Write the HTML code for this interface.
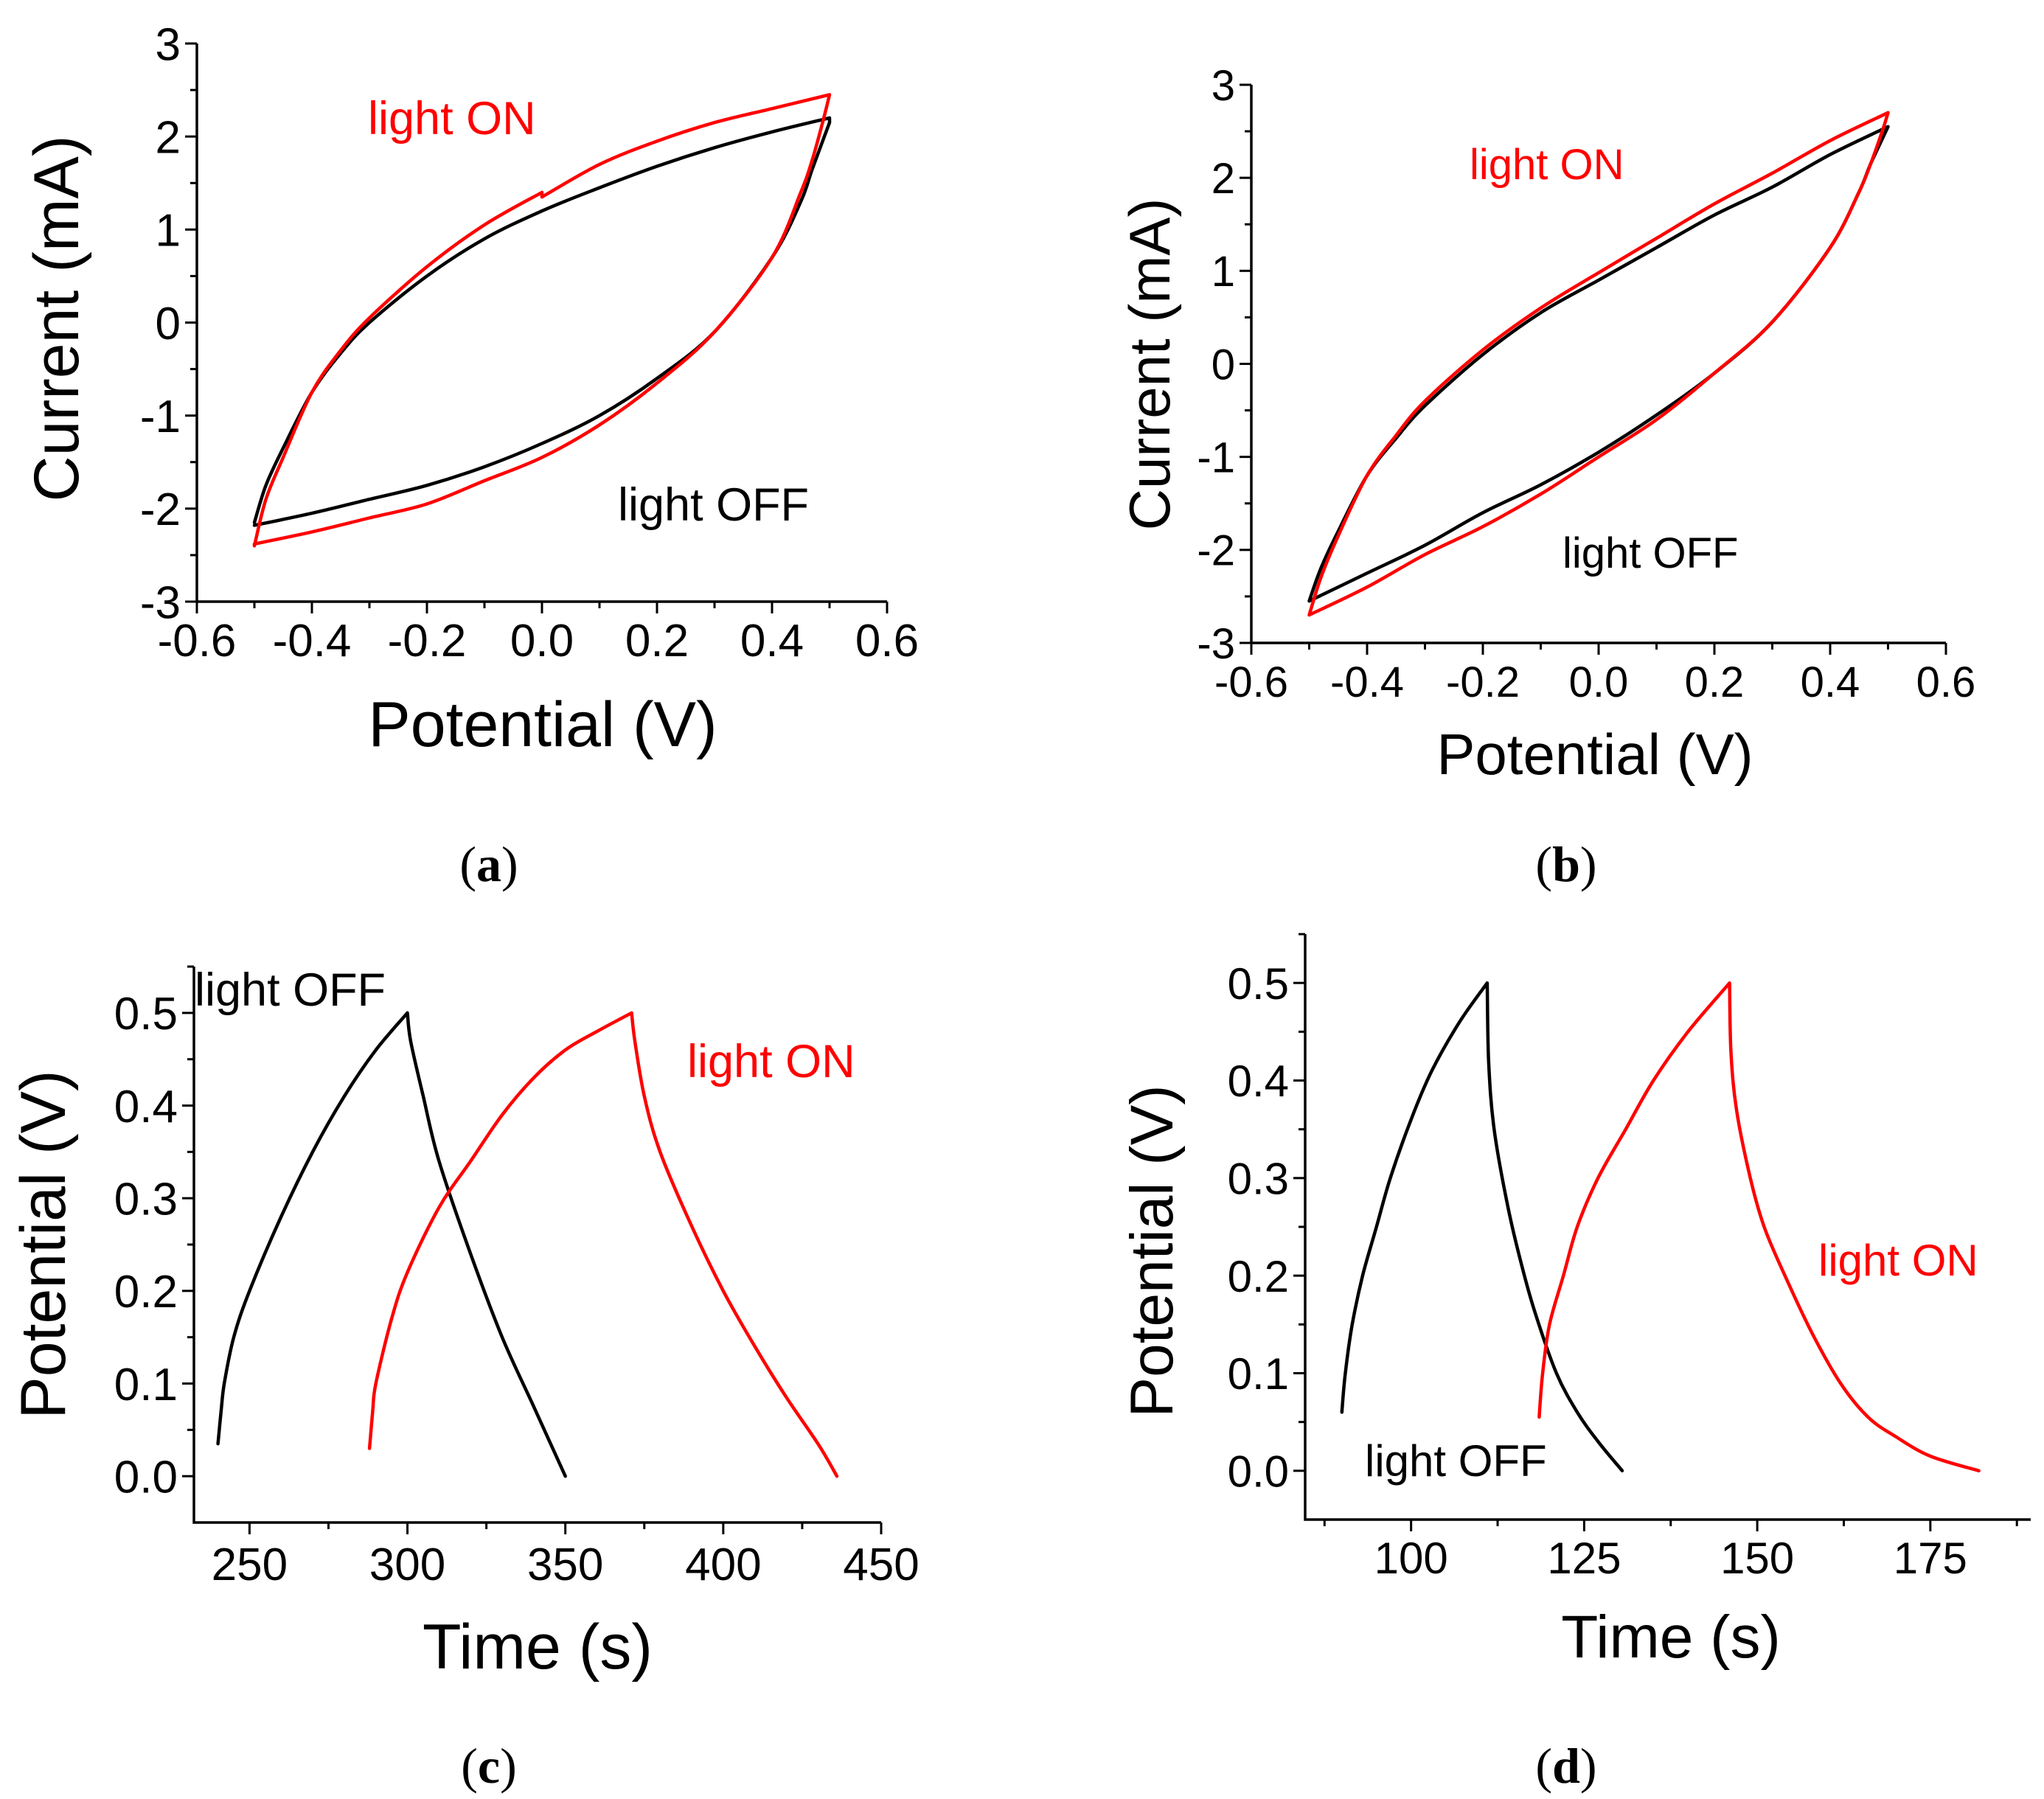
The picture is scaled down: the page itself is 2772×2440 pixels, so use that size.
<!DOCTYPE html>
<html><head><meta charset="utf-8">
<style>
html,body{margin:0;padding:0;background:#fff;}
svg{display:block;}
text{font-family:"Liberation Sans",Arial,sans-serif;}
.cap{font-family:"Liberation Serif",serif;}
</style></head>
<body>
<svg id="fig" width="2772" height="2440" viewBox="0 0 2772 2440" xmlns="http://www.w3.org/2000/svg"></svg>
<script>
// ---- Panel (a) data: CV ----
const aOffV = [-0.5,-0.48,-0.45,-0.4,-0.35,-0.3,-0.2,-0.1,0.0,0.1,0.2,0.3,0.4,0.5, 0.5,0.47,0.45,0.4,0.3,0.2,0.1,0.0,-0.1,-0.2,-0.3,-0.4,-0.5];
const aOffI = [-2.15,-1.75,-1.35,-0.75,-0.33,0.0,0.5,0.9,1.2,1.45,1.68,1.88,2.05,2.2, 2.15,1.65,1.3,0.7,-0.1,-0.6,-1.0,-1.3,-1.55,-1.75,-1.9,-2.05,-2.18];
const aOnV = [-0.5,-0.48,-0.45,-0.4,-0.35,-0.3,-0.2,-0.1,0.0,0.0,0.1,0.2,0.3,0.4,0.5, 0.49,0.47,0.45,0.4,0.3,0.2,0.1,0.0,-0.1,-0.2,-0.3,-0.4,-0.5,-0.5];
const aOnI = [-2.4,-1.9,-1.45,-0.75,-0.3,0.05,0.6,1.05,1.4,1.35,1.7,1.95,2.15,2.3,2.45, 2.2,1.75,1.4,0.7,-0.1,-0.65,-1.1,-1.45,-1.7,-1.95,-2.1,-2.25,-2.38,-2.4];
// ---- Panel (b) data: CV ----
const bOffV = [-0.5,-0.48,-0.45,-0.4,-0.35,-0.3,-0.2,-0.1,0.0,0.1,0.2,0.3,0.4,0.5, 0.47,0.45,0.4,0.3,0.2,0.1,0.0,-0.1,-0.2,-0.3,-0.4,-0.5];
const bOffI = [-2.55,-2.2,-1.8,-1.2,-0.8,-0.45,0.1,0.55,0.9,1.25,1.6,1.9,2.25,2.55, 2.15,1.85,1.25,0.45,-0.1,-0.55,-0.95,-1.3,-1.6,-1.95,-2.25,-2.55];
const bOnV = [-0.5,-0.48,-0.45,-0.4,-0.35,-0.3,-0.2,-0.1,0.0,0.1,0.2,0.3,0.4,0.5, 0.49,0.47,0.45,0.4,0.3,0.2,0.1,0.0,-0.1,-0.2,-0.3,-0.4,-0.5,-0.5];
const bOnI = [-2.7,-2.3,-1.85,-1.2,-0.77,-0.4,0.15,0.6,0.98,1.35,1.72,2.05,2.4,2.7, 2.5,2.15,1.85,1.25,0.45,-0.1,-0.6,-1.0,-1.4,-1.75,-2.05,-2.4,-2.7,-2.7];
// ---- Panel (c) data: GCD ----
const cOffT = [240,241,242,245,250,260,270,280,290,300,301,305,310,320,330,340,350];
const cOffV = [0.035,0.07,0.1,0.15,0.2,0.28,0.35,0.41,0.46,0.5,0.47,0.41,0.34,0.24,0.15,0.075,0.0];
const cOnT = [288,289,290,295,300,310,320,330,340,350,360,371,372,375,380,390,400,410,420,430,436];
const cOnV = [0.03,0.07,0.1,0.17,0.22,0.29,0.34,0.39,0.43,0.46,0.48,0.5,0.47,0.41,0.35,0.27,0.2,0.14,0.085,0.035,0.0];
// ---- Panel (d) data: GCD ----
const dOffT = [90,90.5,91.5,93,95,97,100,103,107,111,111.2,112,114,116,118,121,124,127,130.5];
const dOffV = [0.06,0.1,0.15,0.2,0.25,0.3,0.36,0.41,0.46,0.5,0.42,0.35,0.27,0.21,0.16,0.1,0.06,0.03,0.0];
const dOnT = [118.5,119,120,122,124,127,131,135,140,146,146.2,147,149,151,154,158,162,166,170,175,182];
const dOnV = [0.055,0.1,0.15,0.2,0.25,0.3,0.35,0.4,0.45,0.5,0.43,0.37,0.3,0.25,0.2,0.14,0.09,0.055,0.035,0.015,0.0];
// tick labels
const cvXTicks = ["-0.6","-0.4","-0.2","0.0","0.2","0.4","0.6"];
const cvYTicks = ["-3","-2","-1","0","1","2","3"];
const cXTicks = ["250","300","350","400","450"];
const dXTicks = ["100","125","150","175"];
const gcdYTicks = ["0.0","0.1","0.2","0.3","0.4","0.5"];

const NS="http://www.w3.org/2000/svg";
const svg=document.getElementById('fig');
function mk(tag,attrs,parent){const e=document.createElementNS(NS,tag);for(const k in attrs)e.setAttribute(k,attrs[k]);(parent||svg).appendChild(e);return e;}

function smoothPath(P){
  // split into runs at direction changes, Catmull-Rom within runs
  const runs=[];let cur=[P[0]];
  for(let i=1;i<P.length;i++){
    cur.push(P[i]);
    if(i<P.length-1){
      const dx1=P[i][0]-P[i-1][0],dx2=P[i+1][0]-P[i][0];
      const dy1=P[i][1]-P[i-1][1],dy2=P[i+1][1]-P[i][1];
      if(dx1*dx2<=0||dy1*dy2<=0){runs.push(cur);cur=[P[i]];}
    }
  }
  runs.push(cur);
  let d='M'+P[0][0].toFixed(1)+','+P[0][1].toFixed(1);
  runs.forEach(r=>{
    for(let i=0;i<r.length-1;i++){
      const p0=r[i-1]||r[i],p1=r[i],p2=r[i+1],p3=r[i+2]||r[i+1];
      const c1=[p1[0]+(p2[0]-p0[0])/6,p1[1]+(p2[1]-p0[1])/6];
      const c2=[p2[0]-(p3[0]-p1[0])/6,p2[1]-(p3[1]-p1[1])/6];
      d+=` C${c1[0].toFixed(1)},${c1[1].toFixed(1)} ${c2[0].toFixed(1)},${c2[1].toFixed(1)} ${p2[0].toFixed(1)},${p2[1].toFixed(1)}`;
    }
  });
  return d;
}

function panel(o){
  const g=mk('g',{});
  
  
  const sx=v=>o.L+(v-o.x0)/(o.x1-o.x0)*(o.R-o.L);
  const sy=v=>o.B-(v-o.y0)/(o.y1-o.y0)*(o.B-o.T);
  const ax=mk('path',{d:`M${o.L},${o.T} L${o.L},${o.B} L${o.R},${o.B}`,fill:'none',stroke:'#000','stroke-width':3.5},g);
  
  
  for(let v=o.xmin0;v<=o.x1+1e-9;v+=o.xmin){
    const major=Math.abs(((v-o.xmaj0)/o.xmaj)-Math.round((v-o.xmaj0)/o.xmaj))<1e-6;
    mk('line',{x1:sx(v),x2:sx(v),y1:o.B,y2:o.B+(major?16:9),stroke:'#000','stroke-width':3},g);
  }
  o.xt.forEach((s,i)=>{const v=o.xmaj0+i*o.xmaj;
    const t=mk('text',{x:sx(v),y:o.xly,'font-size':o.tf,'text-anchor':'middle'},g);t.textContent=s;
    
    });
  for(let v=o.ymin0;v<=o.y1+1e-9;v+=o.ymin){
    const major=Math.abs(((v-o.ymaj0)/o.ymaj)-Math.round((v-o.ymaj0)/o.ymaj))<1e-6;
    mk('line',{x1:o.L,x2:o.L-(major?16:9),y1:sy(v),y2:sy(v),stroke:'#000','stroke-width':3},g);
  }
  o.yt.forEach((s,i)=>{const v=o.ymaj0+i*o.ymaj;
    const t=mk('text',{x:o.L-22,y:sy(v)+o.tf*0.36,'font-size':o.tf,'text-anchor':'end'},g);t.textContent=s;
    
    });
  o.series.forEach(s=>{
    const pts=s.x.map((v,i)=>[sx(v),sy(s.y[i])]);
    const p=mk('path',{d:smoothPath(pts),fill:'none',stroke:s.c,'stroke-width':4.5,'stroke-linejoin':'round','stroke-linecap':'round'},g);
    
    
  });
  const xt=mk('text',{x:o.xtx,y:o.xty,'font-size':o.af,'text-anchor':'middle'},g);xt.textContent=o.xtitle;
  
  
  const yt=mk('text',{x:0,y:0,'font-size':o.af,'text-anchor':'middle',transform:`translate(${o.ytx},${o.yty}) rotate(-90)`},g);yt.textContent=o.ytitle;
  
  
  o.labels.forEach(l=>{const t=mk('text',{x:l.x,y:l.y,'font-size':l.f,fill:l.c},g);t.textContent=l.t;
    
    });
  const cap=mk('text',{x:o.capx,y:o.capy,'font-size':68,'text-anchor':'middle',class:'cap'},g);
  cap.innerHTML='(<tspan font-weight="bold">'+o.cap+'</tspan>)';
  
  
}

panel({name:'panel-a',L:267,R:1203,T:59,B:816,x0:-0.6,x1:0.6,y0:-3,y1:3,
  xmin0:-0.6,xmin:0.1,xmaj0:-0.6,xmaj:0.2,ymin0:-3,ymin:0.5,ymaj0:-3,ymaj:1,
  xt:cvXTicks,yt:cvYTicks,tf:62,xly:890,af:86,xtitle:'Potential (V)',xtx:736,xty:1012,
  ytitle:'Current (mA)',ytx:106,yty:432,
  series:[{x:aOffV,y:aOffI,c:'#000',n:'light-off-cv'},{x:aOnV,y:aOnI,c:'#f00',n:'light-on-cv'}],
  labels:[{t:'light ON',x:499,y:182,f:63,c:'#f00',n:'light-on-label'},{t:'light OFF',x:838,y:706,f:63,c:'#000',n:'light-off-label'}],
  cap:'a',capx:663,capy:1195});

panel({name:'panel-b',L:1697,R:2639,T:115,B:872,x0:-0.6,x1:0.6,y0:-3,y1:3,
  xmin0:-0.6,xmin:0.1,xmaj0:-0.6,xmaj:0.2,ymin0:-3,ymin:0.5,ymaj0:-3,ymaj:1,
  xt:cvXTicks,yt:cvYTicks,tf:58,xly:945,af:78,xtitle:'Potential (V)',xtx:2163,xty:1050,
  ytitle:'Current (mA)',ytx:1586,yty:494,
  series:[{x:bOffV,y:bOffI,c:'#000',n:'light-off-cv'},{x:bOnV,y:bOnI,c:'#f00',n:'light-on-cv'}],
  labels:[{t:'light ON',x:1993,y:243,f:58,c:'#f00',n:'light-on-label'},{t:'light OFF',x:2119,y:770,f:58,c:'#000',n:'light-off-label'}],
  cap:'b',capx:2124,capy:1195});

panel({name:'panel-c',L:263,R:1195,T:1311,B:2065,x0:232.4,x1:450,y0:-0.05,y1:0.55,
  xmin0:250,xmin:25,xmaj0:250,xmaj:50,ymin0:0,ymin:0.05,ymaj0:0,ymaj:0.1,
  xt:cXTicks,yt:gcdYTicks,tf:62,xly:2143,af:86,xtitle:'Time (s)',xtx:729,xty:2263,
  ytitle:'Potential (V)',ytx:88,yty:1688,
  series:[{x:cOffT,y:cOffV,c:'#000',n:'light-off-gcd'},{x:cOnT,y:cOnV,c:'#f00',n:'light-on-gcd'}],
  labels:[{t:'light OFF',x:264,y:1364,f:63,c:'#000',n:'light-off-label'},{t:'light ON',x:932,y:1461,f:63,c:'#f00',n:'light-on-label'}],
  cap:'c',capx:663,capy:2418});

panel({name:'panel-d',L:1770,R:2754,T:1267,B:2061,x0:84.7,x1:189.5,y0:-0.05,y1:0.55,
  xmin0:87.5,xmin:12.5,xmaj0:100,xmaj:25,ymin0:0,ymin:0.05,ymaj0:0,ymaj:0.1,
  xt:dXTicks,yt:gcdYTicks,tf:60,xly:2134,af:82,xtitle:'Time (s)',xtx:2266,xty:2248,
  ytitle:'Potential (V)',ytx:1590,yty:1697,
  series:[{x:dOffT,y:dOffV,c:'#000',n:'light-off-gcd'},{x:dOnT,y:dOnV,c:'#f00',n:'light-on-gcd'}],
  labels:[{t:'light OFF',x:1851,y:2002,f:60,c:'#000',n:'light-off-label'},{t:'light ON',x:2466,y:1730,f:60,c:'#f00',n:'light-on-label'}],
  cap:'d',capx:2124,capy:2418});
</script>
</body></html>
